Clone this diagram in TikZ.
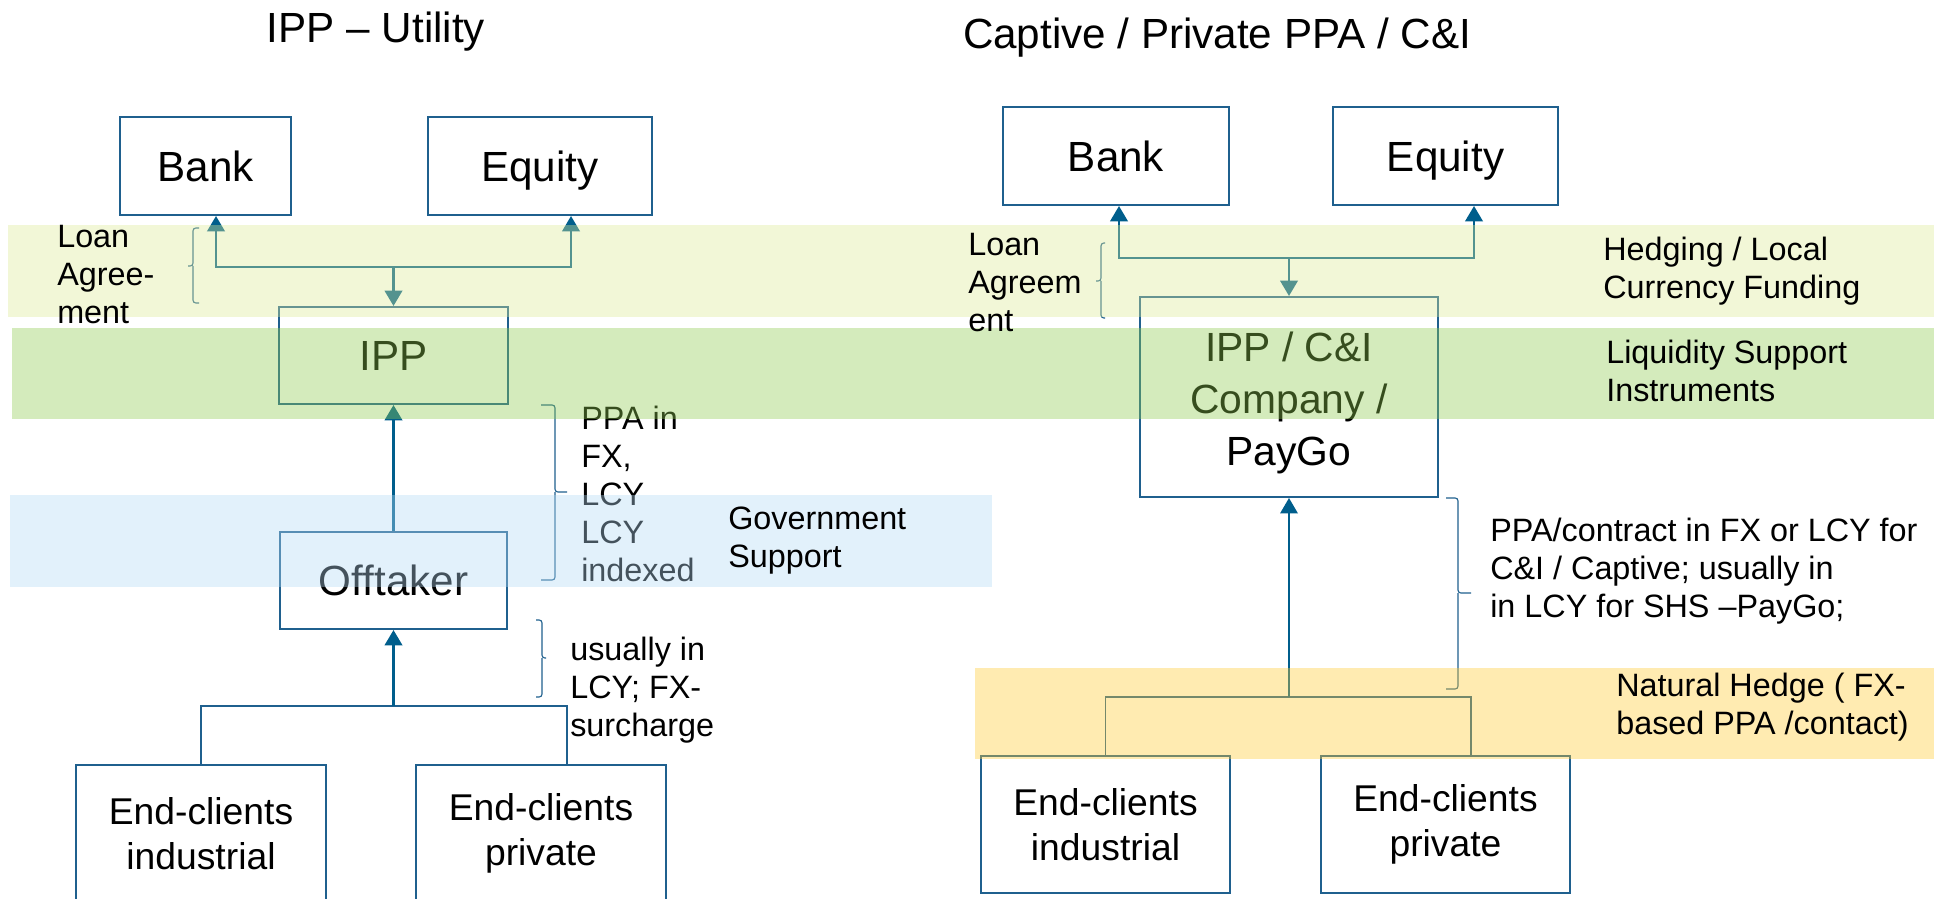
\documentclass[tikz,border=0pt]{standalone}
\usepackage{fontspec}
\setmainfont{Liberation Sans}
\usetikzlibrary{arrows.meta}

\definecolor{boxblue}{RGB}{31,96,142}
\definecolor{arrblue}{RGB}{0,94,140}
\definecolor{yellowband}{RGB}{221,234,150}
\definecolor{greenband}{RGB}{142,203,79}
\definecolor{blueband}{RGB}{180,218,244}
\definecolor{orangeband}{RGB}{255,203,51}

\begin{document}
\begin{tikzpicture}[x=0.025cm,y=-0.025cm,
  box/.style={draw=boxblue,line width=1.4pt,inner sep=0pt,align=center,font=\fontsize{30}{37}\selectfont},
  onebox/.style={box,minimum height=2.45cm,text height=21.5pt,text depth=0pt},
  endbox/.style={box,minimum width=6.25cm,font=\fontsize{26.5}{32}\selectfont},
  arr/.style={draw=arrblue,line width=1.8pt,-{Triangle[length=11pt,width=12.5pt]}},
  link/.style={draw=boxblue,line width=1pt},
  brc/.style={draw=boxblue,line width=0.8pt,rounded corners=2pt},
  note/.style={anchor=west,align=left,inner sep=0pt,font=\fontsize{23}{27}\selectfont},
  title/.style={inner sep=0pt,font=\fontsize{30}{36}\selectfont},
  band/.style={opacity=0.38}]
\useasboundingbox (0,0) rectangle (1934,899);
\clip (0,0) rectangle (1934,899);

% titles
\node[title] (titleL) at (376,32) {IPP – Utility};
\node[title] (titleR) at (1217,38) {Captive / Private PPA / C\&I};

% left: IPP - utility
\node[onebox,minimum width=4.275cm] (bankL) at (205.5,166) {Bank};
\node[onebox,minimum width=5.6cm] (equityL) at (540,166) {Equity};
\node[onebox,minimum width=5.7cm,minimum height=2.425cm] (ippL) at (393.5,355.5) {IPP};
\node[onebox,minimum width=5.65cm,minimum height=2.425cm] (offtaker) at (393.5,580.5) {Offtaker};
\node[endbox,minimum height=3.425cm] (indL) at (201,833.5) {End-clients\\industrial};
\node[endbox,minimum height=3.425cm] (privL) at (541,833.5) {End-clients\\private};

\coordinate (jL) at (393.5,267);
\coordinate (cL) at (393.5,706);
\draw[arr] (jL) -- (ippL);
\draw[arr] (jL) -| ([xshift=0.2625cm]bankL.south);
\draw[arr] (jL) -| ([xshift=0.775cm]equityL.south);
\draw[arr] (offtaker) -- (ippL);
\draw[link] (indL.north) |- (cL) -| ([xshift=0.65cm]privL.north);
\draw[arr] (cL) -- (offtaker);

% right: captive / C&I
\node[onebox,minimum width=5.65cm] (bankR) at (1116,156) {Bank};
\node[onebox,minimum width=5.625cm] (equityR) at (1445.5,156) {Equity};
\node[box,minimum width=7.45cm,minimum height=5cm,font=\fontsize{29}{37}\selectfont] (ippR) at (1289,397) {\rule{0pt}{30pt}IPP / C\&I\\Company /\\PayGo};
\node[endbox,minimum width=6.225cm,minimum height=3.425cm] (indR) at (1105.5,824.5) {End-clients\\industrial};
\node[endbox,minimum width=6.225cm,minimum height=3.425cm] (privR) at (1445.5,824.5) {End-clients\\private};

\coordinate (jR) at (1289,258);
\coordinate (cR) at (1289,697);
\draw[arr] (jR) -- (ippR);
\draw[arr] (jR) -| ([xshift=0.075cm]bankR.south);
\draw[arr] (jR) -| ([xshift=0.7125cm]equityR.south);
\draw[link] (indR.north) |- (cR) -| ([xshift=0.6375cm]privR.north);
\draw[arr,line width=1.2pt] (cR) -- (ippR);

% braces
\draw[brc] (199,228) -| (193,266) -- (188,266) (193,266) |- (199,303);
\draw[brc] (541,405) -| (555,492) -- (567,492) (555,492) |- (541,580);
\draw[brc] (536,620) -| (542,658) -- (546,658) (542,658) |- (536,697);
\draw[brc] (1105,243) -| (1101,281) -- (1096,281) (1101,281) |- (1105,318);
\draw[brc] (1446,498) -| (1458,593) -- (1471,593) (1458,593) |- (1446,689);

\node[note] (ppaL) at (581,494) {PPA in\\FX,\\LCY\\LCY\\indexed};
\node[note] (usualL) at (570,690) {usually in\\LCY; FX-\\surcharge};

% bands
\fill[yellowband,band] (8,225) rectangle (1934,317);
\fill[greenband,band] (12,328) rectangle (1934,419);
\fill[blueband,band] (10,495) rectangle (992,587);
\fill[orangeband,band] (975,668) rectangle (1934,759);

\node[note] (loanL) at (57,274.5) {Loan\\Agree-\\ment};
\node[note] (govt) at (728,541) {Government\\Support};
\node[note] (loanR) at (968,282.5) {Loan\\Agreem\\ent};
\node[note] (hedging) at (1603,271) {Hedging / Local\\Currency Funding};
\node[note] (liquidity) at (1606,371) {Liquidity Support\\Instruments};
\node[note] (ppaR) at (1490,571) {PPA/contract in FX or LCY for\\C\&I / Captive; usually in\\in LCY for SHS –PayGo;};
\node[note] (natural) at (1616,707) {Natural Hedge ( FX-\\based PPA /contact)};
\end{tikzpicture}
\end{document}
